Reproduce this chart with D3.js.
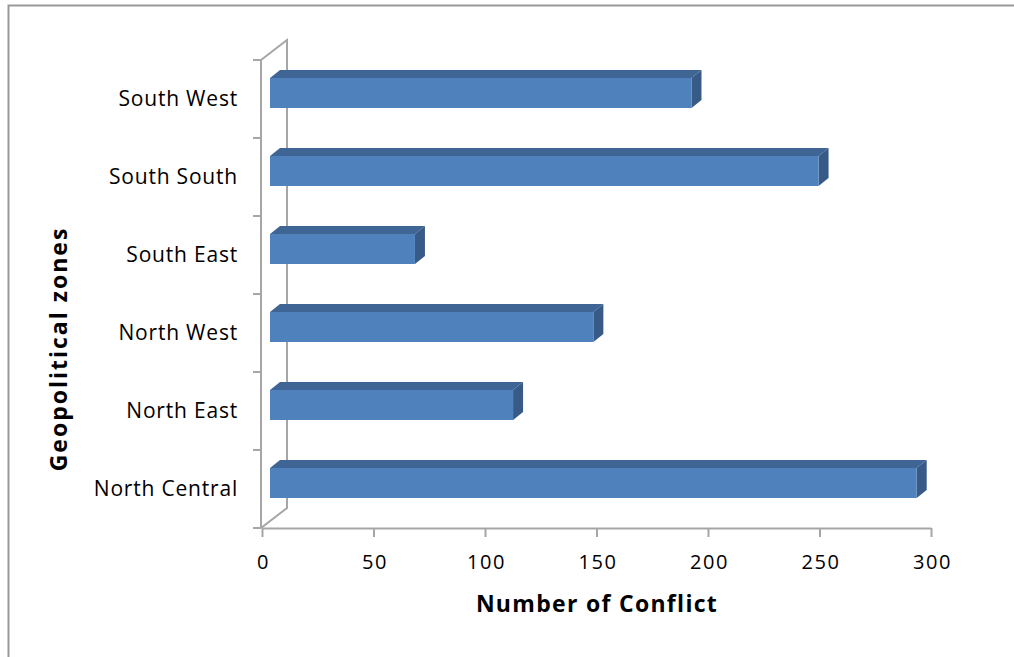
<!DOCTYPE html>
<html>
<head>
<meta charset="utf-8">
<script src="https://cdn.jsdelivr.net/npm/d3@7"></script>
<style>
  body { margin: 0; background: white; }
  text { font-family: "Open Sans", Lato, sans-serif; fill: #000; }
</style>
</head>
<body>
<div id="chart"></div>
<script>
// Conflicts by geopolitical zone - 3D style horizontal bars //
const zones = ["South West", "South South", "South East", "North West", "North East", "North Central"];
const conflicts = [189, 246, 65, 145, 109, 290];
const xTicks = [0, 50, 100, 150, 200, 250, 300];

const width = 1014;
const height = 657;
const depthX = 26;   // back wall offset
const depthY = -20;
const barDx = 10;    // bar depth
const barDy = -8;
const barShift = 8;  // front face shift from axis
const barH = 30;

const svg = d3.select("#chart")
  .append("svg")
  .attr("width", width)
  .attr("height", height);

// outer frame
svg.append("rect")
  .attr("x", 8.5)
  .attr("y", 5.5)
  .attr("width", 1020)
  .attr("height", 700)
  .attr("fill", "white")
  .attr("stroke", "#999")
  .attr("stroke-width", 2);

const x = d3.scaleLinear()
  .domain([0, 300])
  .range([262, 931]);

const y = d3.scaleBand()
  .domain(zones)
  .range([60, 528]);

const axisColor = "#a6a6a6";
const x0 = x(0);

// back wall + floor edge
svg.append("path")
  .attr("d", `M${x0 - 1},60 L${x0 - 1 + depthX},${60 + depthY} L${x0 - 1 + depthX},${528 + depthY} L${x0 - 1},528`)
  .attr("fill", "none")
  .attr("stroke", axisColor)
  .attr("stroke-width", 2);

// front vertical axis
svg.append("line")
  .attr("x1", x0 - 1).attr("x2", x0 - 1)
  .attr("y1", 60).attr("y2", 528)
  .attr("stroke", axisColor)
  .attr("stroke-width", 2);

// category ticks
svg.selectAll(".ytick")
  .data(d3.range(zones.length + 1))
  .enter()
  .append("line")
  .attr("class", "ytick")
  .attr("x1", x0 - 9).attr("x2", x0 - 1)
  .attr("y1", i => 60 + i * y.step())
  .attr("y2", i => 60 + i * y.step())
  .attr("stroke", axisColor)
  .attr("stroke-width", 2);

// x axis
const xAxis = d3.axisBottom(x)
  .tickValues(xTicks)
  .tickSize(9)
  .tickPadding(18)
  .tickSizeOuter(0);

const gx = svg.append("g")
  .attr("transform", "translate(0,528)")
  .call(xAxis);

gx.select(".domain").attr("stroke", axisColor).attr("stroke-width", 2);
gx.selectAll(".tick line").attr("stroke", axisColor).attr("stroke-width", 2);
gx.selectAll(".tick text")
  .style("font-size", "20px")
  .style("font-family", "'Open Sans', sans-serif")
  .style("letter-spacing", "1.5px")
  .attr("dx", 1)
  .attr("fill", "#000");

// bars
const bars = svg.selectAll(".bar")
  .data(zones.map((z, i) => ({ zone: z, value: conflicts[i] })))
  .enter()
  .append("g")
  .attr("class", "bar");

const faceTop = d => y(d.zone) + 18;
const left = () => x(0) + barShift;
const right = d => x(d.value) + barShift;

// top face
bars.append("path")
  .attr("d", d => `M${left()},${faceTop(d)} L${left() + barDx},${faceTop(d) + barDy} L${right(d) + barDx},${faceTop(d) + barDy} L${right(d)},${faceTop(d)} Z`)
  .attr("fill", "#3f6595");

// side face
bars.append("path")
  .attr("d", d => `M${right(d)},${faceTop(d)} L${right(d) + barDx},${faceTop(d) + barDy} L${right(d) + barDx},${faceTop(d) + barDy + barH} L${right(d)},${faceTop(d) + barH} Z`)
  .attr("fill", "#375a87");

// front face
bars.append("rect")
  .attr("x", left())
  .attr("y", d => faceTop(d))
  .attr("width", d => right(d) - left())
  .attr("height", barH)
  .attr("fill", "#4f81bd");

// category labels
svg.selectAll(".ylabel")
  .data(zones)
  .enter()
  .append("text")
  .attr("class", "ylabel")
  .attr("x", 238)
  .attr("y", d => y(d) + y.bandwidth() / 2 + 1)
  .attr("text-anchor", "end")
  .attr("dominant-baseline", "middle")
  .style("font-size", "21px")
  .style("letter-spacing", "0.8px")
  .text(d => d);

// axis titles
svg.append("text")
  .attr("x", 597)
  .attr("y", 606)
  .attr("text-anchor", "middle")
  .attr("dominant-baseline", "middle")
  .style("font-size", "23px")
  .style("font-weight", "bold")
  .style("letter-spacing", "1.3px")
  .text("Number of Conflict");

svg.append("text")
  .attr("transform", "translate(61,349) rotate(-90)")
  .attr("text-anchor", "middle")
  .attr("dominant-baseline", "middle")
  .style("font-size", "23px")
  .style("font-weight", "bold")
  .style("letter-spacing", "2px")
  .text("Geopolitical zones");
</script>
</body>
</html>
